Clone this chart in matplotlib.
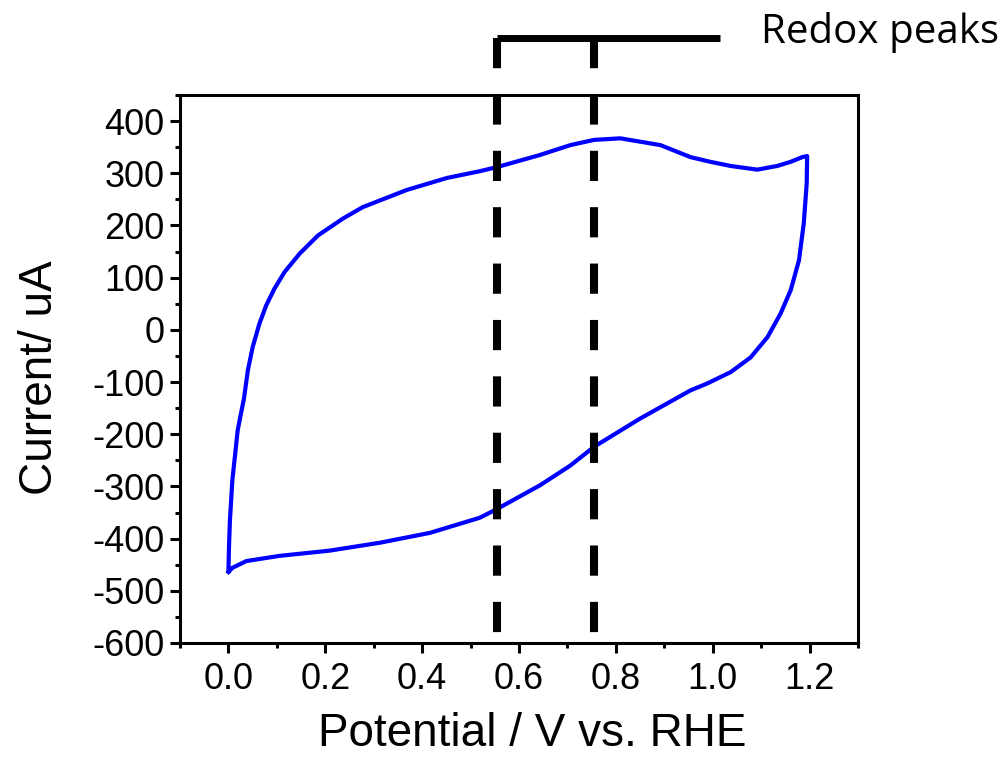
import matplotlib

matplotlib.use('Agg')
import matplotlib.pyplot as plt
from matplotlib.ticker import MultipleLocator, FormatStrFormatter

# forward (anodic) scan, 0 -> 1.2 V
fwd_potential = [0.000, 0.001, 0.003, 0.008, 0.019, 0.025, 0.032, 0.040, 0.050, 0.064,
                 0.078, 0.095, 0.116, 0.147, 0.185, 0.236, 0.277, 0.368, 0.451, 0.519,
                 0.555, 0.643, 0.706, 0.755, 0.809, 0.892, 0.954, 0.995, 1.037, 1.092,
                 1.133, 1.161, 1.185]
fwd_current = [-462, -420, -366, -289, -193, -164, -132, -78, -33, 12,
               47, 79, 111, 146, 181, 213, 235, 268, 291, 304,
               312, 335, 354, 364, 367, 354, 331, 322, 314, 307,
               314, 322, 331]

# reverse (cathodic) scan, 1.2 -> 0 V
rev_potential = [1.195, 1.194, 1.188, 1.178, 1.161, 1.140, 1.113, 1.078, 1.037, 0.988,
                 0.954, 0.850, 0.755, 0.706, 0.643, 0.555, 0.519, 0.416, 0.312, 0.209,
                 0.106, 0.037, 0.008, 0.000]
rev_current = [333, 280, 204, 133, 76, 31, -14, -53, -81, -103,
               -116, -170, -224, -260, -298, -343, -360, -389, -408, -423,
               -433, -443, -456, -464]

peak_potentials = [0.555, 0.755]
bracket_top = 559          # current level of the bracket above the frame
bracket_end = 1.016
label_text = 'Redox peaks'

plt.rcParams['font.family'] = ['Liberation Sans', 'DejaVu Sans']
plt.rcParams['axes.unicode_minus'] = False

fig = plt.figure(figsize=(10.04, 7.57), dpi=100)
ax = fig.add_axes([0.1793, 0.1506, 0.6753, 0.7239])

ax.plot(fwd_potential + rev_potential, fwd_current + rev_current,
        color='#0000FF', lw=3.0, solid_joinstyle='round')

# dashed markers run down from the bracket so the dash phase starts at the top
for p in peak_potentials:
    ax.plot([p, p], [bracket_top, -600], color='black', lw=5.8,
            dashes=(3.75, 3.25), dash_capstyle='butt', clip_on=False)
ax.plot([peak_potentials[0], bracket_end], [bracket_top, bracket_top],
        color='black', lw=5.0, solid_capstyle='butt', clip_on=False)
ax.text(1.099, 570, label_text, fontsize=29, family=['Open Sans', 'DejaVu Sans'],
        ha='left', va='center', clip_on=False)

ax.set_xlim(-0.1, 1.3)
ax.set_ylim(-600, 450)
ax.xaxis.set_major_locator(MultipleLocator(0.2))
ax.xaxis.set_minor_locator(MultipleLocator(0.1))
ax.yaxis.set_minor_locator(MultipleLocator(50))
ax.set_yticks(range(-600, 401, 100))
ax.xaxis.set_major_formatter(FormatStrFormatter('%.1f'))

for s in ax.spines.values():
    s.set_linewidth(2.2)
ax.tick_params(which='major', length=7, width=2.2, labelsize=26, direction='out')
ax.tick_params(which='minor', length=3.5, width=2.2, direction='out')
ax.tick_params(axis='y', pad=4)
ax.tick_params(axis='x', pad=7)

ax.set_xlabel('Potential / V vs. RHE', fontsize=33)
ax.set_ylabel('Current/ uA', fontsize=33, labelpad=22)
ax.xaxis.set_label_coords(0.519, -0.126)
ax.yaxis.label.set_y(0.485)

fig.savefig('out.png', dpi=100)
